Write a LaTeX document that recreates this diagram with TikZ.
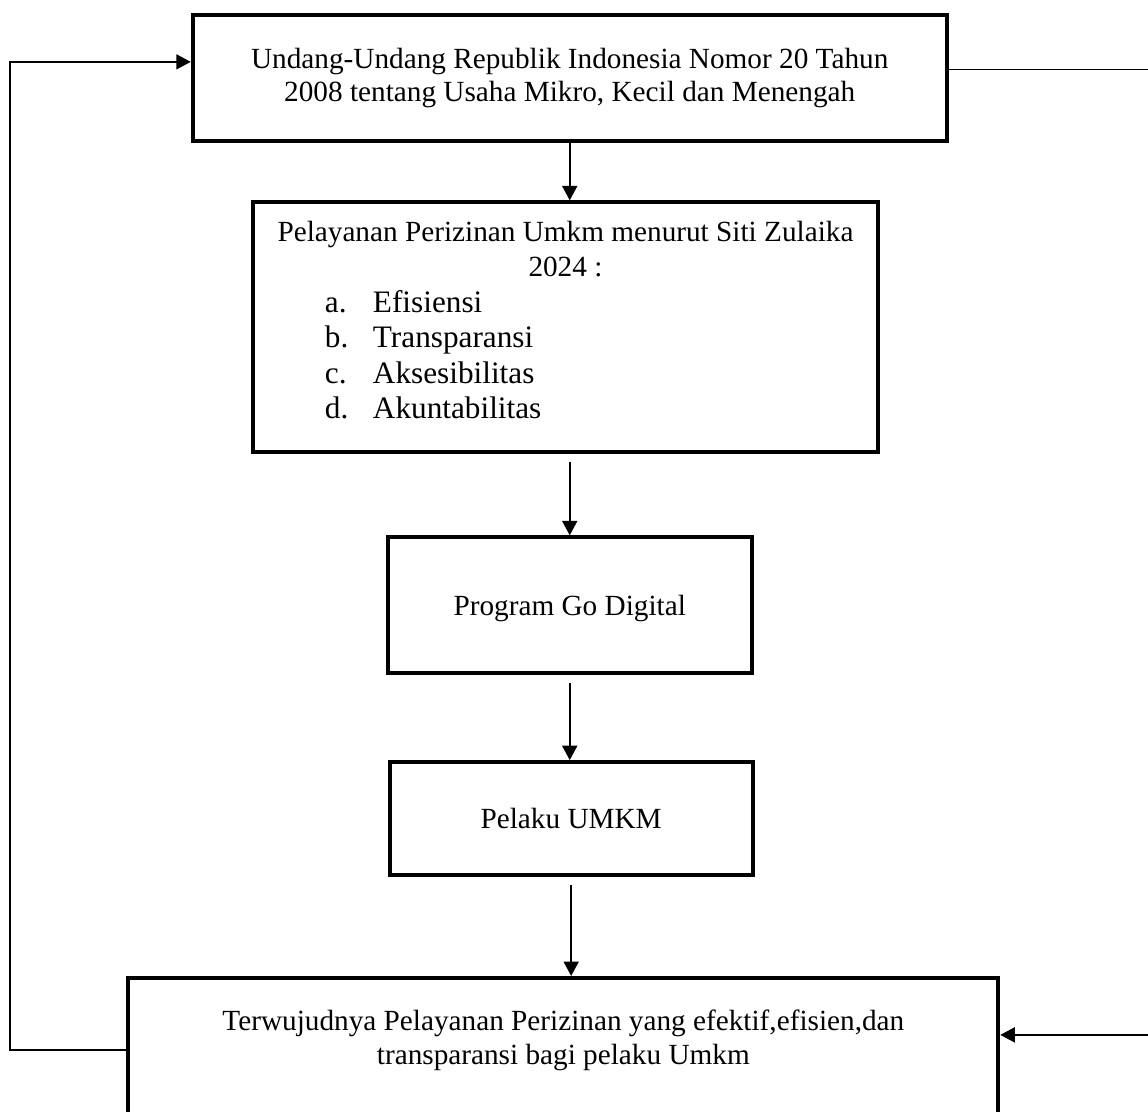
\documentclass[tikz,border=0pt]{standalone}
\usepackage{fontspec}
\setmainfont{Liberation Serif}
\usetikzlibrary{arrows.meta}

\begin{document}
\begin{tikzpicture}[
    box/.style={draw, line width=1.6pt, inner sep=0pt, align=flush center,
        font=\fontsize{11.7}{13.4}\selectfont},
    arr/.style={-{Triangle[length=5.8pt,width=6pt]}, line width=0.8pt},
    back/.style={-{Triangle[length=5.8pt,width=6pt]}, line width=0.6pt}]
    \useasboundingbox (0,0) rectangle (16.14,15.62);
    % boxes
    \node[box, minimum width=10.60cm, minimum height=1.77cm] (uu) at (8.01,14.52)
        {Undang-Undang Republik Indonesia Nomor 20 Tahun\\2008 tentang Usaha Mikro, Kecil dan Menengah};
    \node[box, text width=250pt, text depth=76.8pt, minimum height=3.51cm,
        font=\fontsize{12.5}{14.2}\selectfont] (pel) at (7.95,11.02)
        {{\fontsize{11.7}{14.2}\selectfont Pelayanan Perizinan Umkm menurut Siti Zulaika}\\
        {\fontsize{11.7}{14.2}\selectfont 2024 :}\\
        \makebox[250pt][l]{\hspace*{28.8pt}\makebox[19.2pt][l]{a.}Efisiensi}\\
        \makebox[250pt][l]{\hspace*{28.8pt}\makebox[19.2pt][l]{b.}Transparansi}\\
        \makebox[250pt][l]{\hspace*{28.8pt}\makebox[19.2pt][l]{c.}Aksesibilitas}\\
        \makebox[250pt][l]{\hspace*{28.8pt}\makebox[19.2pt][l]{d.}Akuntabilitas}};
    \node[box, minimum width=5.12cm, minimum height=1.91cm, text height=11pt] (prog) at (8.01,7.11) {Program Go Digital};
    \node[box, minimum width=5.10cm, minimum height=1.59cm] (pelaku) at (8.03,4.11) {Pelaku UMKM};
    \node[box, minimum width=12.23cm, minimum height=2.28cm] (hasil) at (7.92,0.73) {};
    \node[align=flush center, font=\fontsize{11.7}{13.6}\selectfont] (hasilteks) at (7.92,0.99)
        {Terwujudnya Pelayanan Perizinan yang efektif,efisien,dan\\transparansi bagi pelaku Umkm};
    % down arrows
    \draw[arr] (uu.south) -- (uu.south |- pel.north);
    \draw[arr, shorten <=3pt] (pel.south -| prog.north) -- (prog.north);
    \draw[arr, shorten <=3pt] (prog.south) -- (prog.south |- pelaku.north);
    \draw[arr, shorten <=3pt] (pelaku.south) -- (pelaku.south |- hasil.north);
    % feedback lines
    \coordinate (lt) at (0.14,14.75);\coordinate (lb) at (0.14,0.86);
    \coordinate (rt) at (16.25,14.64);\coordinate (rb) at (16.25,1.07);
    \draw[back] (hasil.west |- lb) -- (lb) -- (lt) -- (uu.west |- lt);
    \draw[back] (uu.east |- rt) -- (rt) -- (rb) -- (hasil.east |- rb);
\end{tikzpicture}
\end{document}
